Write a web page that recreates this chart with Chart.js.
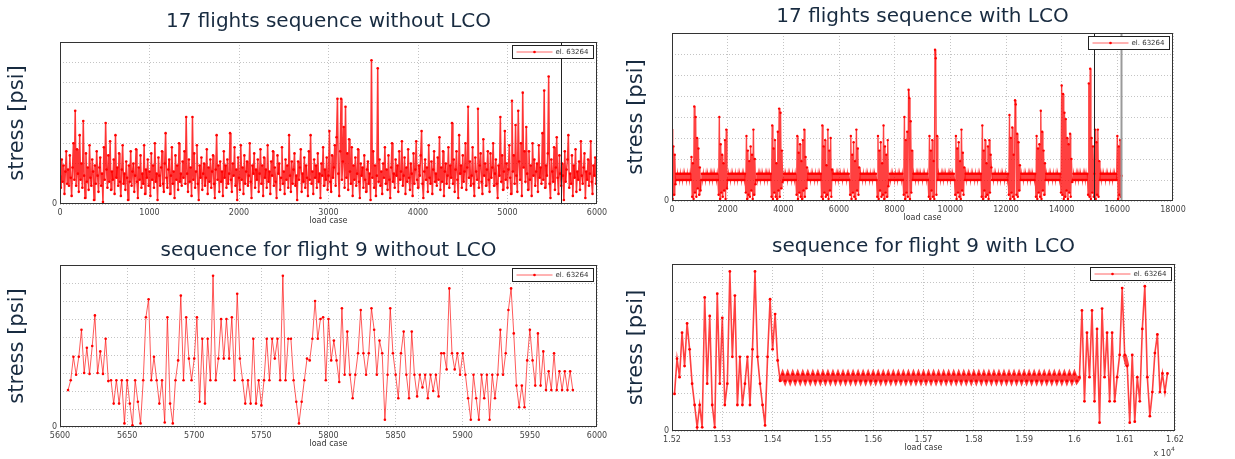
<!DOCTYPE html>
<html>
<head>
<meta charset="utf-8">
<script src="https://cdn.jsdelivr.net/npm/chart.js@4.4.1/dist/chart.umd.min.js"></script>
<style>
  html, body { margin: 0; padding: 0; background: #fff; }
  .panel { position: absolute; }
  canvas { display: block; }
</style>
</head>
<body>
<div class="panel" style="left:0;top:0"><canvas id="tl" width="617" height="229"></canvas></div>
<div class="panel" style="left:617px;top:0"><canvas id="tr" width="618" height="229"></canvas></div>
<div class="panel" style="left:0;top:229px"><canvas id="bl" width="617" height="230"></canvas></div>
<div class="panel" style="left:617px;top:229px"><canvas id="br" width="618" height="230"></canvas></div>
<script>
const legendLabel = 'el. 63264';
const stressTitle = 'stress [psi]';
const loadTitle = 'load case';

// 17 flights, no LCO: one value per 10 load cases
const seqNoLcoStart = 0, seqNoLcoStep = 10;
const seqNoLco = [
  1.4,0.8,2.2,1.1,1.9,0.5,1.6,2.6,1.0,1.7,0.9,2.4,1.3,0.4,1.8,3.0,1.2,4.6,0.9,2.7,
  1.5,0.6,3.4,1.2,2.0,0.8,4.1,1.4,0.3,2.5,1.1,1.8,0.7,2.9,1.3,0.9,2.2,1.6,0.2,1.9,
  1.0,2.6,1.4,0.6,1.8,2.3,0.9,1.5,0.1,2.8,1.2,4.0,1.7,0.8,2.4,1.1,3.1,0.7,1.6,1.2,
  2.2,0.5,3.4,1.3,1.8,0.9,2.5,1.1,0.4,1.7,2.9,1.0,1.5,0.7,2.1,1.3,0.2,1.9,1.1,2.6,
  0.9,1.6,2.0,0.6,1.4,2.7,1.1,0.3,1.8,1.2,2.4,0.8,1.5,1.0,2.9,0.5,1.7,1.3,2.2,0.9,
  1.6,0.4,2.5,1.2,1.9,0.8,3.0,1.1,1.5,0.2,2.3,1.4,0.9,1.8,2.6,1.0,0.6,2.0,3.5,1.3,
  0.8,1.7,2.2,0.5,1.4,2.8,1.0,1.6,0.3,2.4,1.2,1.9,0.7,3.0,1.1,1.5,0.9,2.1,1.3,2.6,
  1.0,4.3,1.5,0.6,2.2,1.1,1.8,0.4,4.3,1.2,2.5,0.8,1.6,2.9,1.0,0.2,1.9,1.3,2.3,0.7,
  1.5,2.0,0.9,1.3,2.7,0.5,1.8,1.1,2.2,0.8,1.6,2.4,1.0,0.3,1.7,3.4,1.2,1.9,0.6,2.1,
  1.1,1.6,0.4,2.6,1.3,1.9,0.8,2.2,1.0,1.5,3.5,1.2,0.6,2.0,1.4,2.8,0.9,1.7,0.2,2.3,
  1.3,0.7,2.9,1.2,1.8,0.5,2.4,1.0,1.6,2.1,0.9,1.4,3.0,1.1,0.3,1.9,1.5,2.5,0.8,1.7,
  1.2,2.2,0.6,1.5,2.7,1.0,1.9,0.4,2.3,1.3,1.7,0.8,2.9,1.1,1.6,0.5,2.1,1.4,2.6,0.9,
  1.8,1.1,0.3,2.4,1.5,2.0,0.7,1.3,2.8,1.0,1.6,0.5,2.2,1.2,1.9,0.8,3.4,1.4,0.6,2.1,
  1.0,1.7,2.5,0.9,1.4,0.2,2.1,1.2,1.8,2.7,0.6,1.5,1.1,2.3,0.8,1.9,1.3,0.4,2.6,1.2,
  3.4,1.0,1.6,0.5,2.2,1.3,1.9,0.8,2.5,1.1,1.5,0.3,2.0,1.4,2.8,0.9,1.7,1.2,2.3,0.7,
  1.4,3.6,1.1,0.6,2.4,1.3,1.8,2.9,0.9,3.3,5.2,1.5,0.4,2.6,5.2,1.2,2.1,3.8,0.8,4.8,
  1.3,2.5,0.7,3.2,1.6,1.0,2.8,0.4,1.9,1.2,2.3,0.9,1.5,2.7,1.1,0.3,2.0,1.4,1.8,0.8,
  2.4,1.2,0.6,1.7,2.1,1.0,1.5,0.2,7.1,1.3,2.6,0.8,1.9,0.4,1.4,6.7,1.1,2.2,0.9,1.6,
  0.5,2.0,1.3,2.8,1.0,1.7,0.7,2.4,1.2,0.3,1.8,3.0,1.1,1.5,0.8,2.2,1.4,1.9,0.6,2.6,
  1.2,1.6,3.1,0.9,1.4,2.3,0.5,1.8,1.1,2.7,1.3,0.7,2.0,1.5,0.4,2.5,1.0,1.7,3.1,1.2,
  0.8,1.9,1.4,2.4,3.6,1.0,0.3,1.6,2.2,1.2,1.8,0.6,2.9,1.3,1.0,2.1,0.5,1.7,2.6,1.1,
  1.5,0.9,2.3,1.2,3.3,0.7,1.8,1.1,2.6,0.4,1.6,2.0,1.0,1.4,2.8,0.8,1.9,1.3,4.0,1.0,
  2.2,0.6,1.7,2.6,1.2,0.3,3.4,1.5,1.9,0.8,2.4,1.1,1.6,3.0,0.7,1.8,4.8,1.3,2.1,0.9,
  1.4,2.8,1.0,0.4,2.3,1.6,1.2,4.7,0.8,1.9,2.5,1.1,0.5,3.2,1.4,2.0,0.9,1.7,2.6,1.2,
  0.6,2.5,1.3,1.8,3.0,0.9,1.5,2.2,1.0,0.3,1.9,1.4,4.3,1.1,2.4,0.7,1.6,3.6,1.2,2.0,
  0.8,1.7,2.9,1.3,0.5,5.1,1.6,2.4,1.0,3.9,1.4,0.6,4.6,2.1,1.2,3.0,0.4,5.5,1.8,2.6,
  1.1,3.8,1.5,0.7,2.6,1.2,1.9,0.4,3.0,1.4,2.2,0.9,1.6,2.0,0.6,2.9,1.3,1.8,1.0,3.5,
  1.2,5.6,0.8,1.9,1.4,2.5,6.3,1.0,0.3,2.2,1.6,1.1,2.8,0.7,1.8,3.3,1.3,0.5,2.4,1.5,
  0.9,2.0,1.4,0.2,2.6,1.1,1.7,2.2,3.4,0.8,1.5,1.0,2.4,0.4,1.9,1.3,2.7,0.6,1.6,1.2,
  2.1,0.7,3.1,1.4,1.0,1.8,2.5,0.3,1.6,1.2,2.2,0.9,1.5,3.1,1.1,0.5,1.9,1.4,2.3,1.0
];

// 17 flights with LCO: one value per 25 load cases
const seqLcoStart = 0, seqLcoStep = 25;
const seqLco = [
  // 0 - 975
  3.4,0.1,2.6,0.3,2.2,0.8,
  1.3,1.0,1.3,1.0,1.3,1.0,1.3,1.0,1.3,1.0,1.3,1.0,1.3,1.0,1.3,1.0,1.3,1.0,1.3,1.0,1.3,1.0,
  2.1,0.2,1.8,0.1,4.5,0.4,4.0,0.2,3.0,0.6,2.5,0.3,
  // 1000 - 1975
  1.6,0.5,
  1.0,1.3,1.0,1.3,1.0,1.3,1.0,1.3,1.0,1.3,1.0,1.3,1.0,1.3,1.0,1.3,1.0,1.3,1.0,1.3,1.0,1.3,1.0,1.3,1.0,
  0.3,4.0,0.1,2.7,0.4,2.2,0.2,1.8,0.5,2.9,0.1,3.4,0.6,
  // 2000 - 2975
  1.0,1.3,1.0,1.3,1.0,1.3,1.0,1.3,1.0,1.3,1.0,1.3,1.0,1.3,1.0,1.3,1.0,1.3,1.0,1.3,1.0,1.3,1.0,1.3,1.0,1.3,
  0.4,3.1,0.1,2.4,0.3,1.9,0.2,2.6,0.5,2.2,0.1,3.4,0.3,2.0,
  // 3000 - 3975
  0.8,
  1.0,1.3,1.0,1.3,1.0,1.3,1.0,1.3,1.0,1.3,1.0,1.3,1.0,1.3,1.0,1.3,1.0,1.3,1.0,1.3,1.0,1.3,
  0.2,3.6,0.1,2.5,0.4,2.9,0.2,1.8,0.1,3.3,0.5,4.4,0.2,4.2,0.6,2.4,0.9,
  // 4000 - 4975
  1.0,1.3,1.0,1.3,1.0,1.3,1.0,1.3,1.0,1.3,1.0,1.3,1.0,1.3,1.0,1.3,1.0,1.3,1.0,
  0.3,3.1,0.1,2.3,0.4,2.7,0.2,1.9,0.1,2.9,0.5,3.4,0.2,2.1,0.6,1.6,
  1.0,1.3,1.0,1.3,1.0,
  // 5000 - 5975
  1.3,1.0,1.3,1.0,1.3,1.0,1.3,1.0,1.3,1.0,1.3,1.0,1.3,1.0,1.3,
  0.2,3.6,0.1,2.6,0.4,2.9,0.2,1.7,0.3,3.4,0.1,2.4,0.5,3.0,0.2,1.5,
  1.0,1.3,1.0,1.3,1.0,1.3,1.0,1.3,1.0,
  // 6000 - 6975
  1.3,1.0,1.3,1.0,1.3,1.0,1.3,1.0,1.3,1.0,1.3,1.0,1.3,1.0,1.3,1.0,
  0.3,3.1,0.1,2.2,0.4,2.8,0.2,1.9,0.1,3.4,0.5,2.5,0.3,1.6,
  1.0,1.3,1.0,1.3,1.0,1.3,1.0,1.3,1.0,1.3,
  // 7000 - 7975
  1.0,1.3,1.0,1.3,1.0,1.3,1.0,1.3,1.0,1.3,1.0,1.3,1.0,1.3,1.0,
  0.2,3.1,0.1,2.4,0.5,2.8,0.2,1.8,0.3,3.6,0.1,2.6,0.4,2.2,0.2,2.9,0.7,
  1.0,1.3,1.0,1.3,1.0,1.3,1.0,1.3,
  // 8000 - 8975
  1.0,1.3,1.0,1.3,1.0,1.3,1.0,1.3,1.0,1.3,1.0,1.3,1.0,
  0.3,4.0,0.1,2.9,0.4,3.3,0.2,5.3,4.9,0.1,3.8,0.4,2.4,
  1.0,1.3,1.0,1.3,1.0,1.3,1.0,1.3,1.0,1.3,1.0,1.3,1.0,1.3,
  // 9000 - 9975
  1.0,1.3,1.0,1.3,1.0,1.3,1.0,1.3,1.0,
  0.2,3.1,0.1,2.4,0.5,2.9,0.2,1.9,0.1,7.2,6.8,0.3,3.1,
  1.0,1.3,1.0,1.3,1.0,1.3,1.0,1.3,1.0,1.3,1.0,1.3,1.0,1.3,1.0,1.3,1.0,1.3,
  // 10000 - 10975
  1.0,1.3,1.0,1.3,1.0,1.3,1.0,
  0.3,3.1,0.1,2.5,0.4,2.8,0.2,1.9,0.1,3.4,0.5,2.3,0.3,1.6,
  1.0,1.3,1.0,1.3,1.0,1.3,1.0,1.3,1.0,1.3,1.0,1.3,1.0,1.3,1.0,1.3,1.0,1.3,1.0,
  // 11000 - 11975
  1.3,1.0,1.3,1.0,1.3,
  0.2,3.6,0.1,2.4,0.5,2.9,0.2,1.8,0.3,2.6,0.1,2.9,0.4,2.2,1.6,
  1.0,1.3,1.0,1.3,1.0,1.3,1.0,1.3,1.0,1.3,1.0,1.3,1.0,1.3,1.0,1.3,1.0,1.3,1.0,1.3,
  // 12000 - 12975
  1.0,1.3,1.0,1.3,
  0.3,4.1,0.1,3.0,0.4,3.5,0.2,2.2,0.1,4.8,4.6,0.3,3.2,0.2,2.8,0.5,1.7,
  1.0,1.3,1.0,1.3,1.0,1.3,1.0,1.3,1.0,1.3,1.0,1.3,1.0,1.3,1.0,1.3,1.0,1.3,1.0,
  // 13000 - 13975
  1.3,1.0,1.3,
  0.2,3.1,0.1,2.5,0.4,2.7,0.2,4.3,0.1,3.3,0.5,2.4,0.3,1.8,
  1.0,1.3,1.0,1.3,1.0,1.3,1.0,1.3,1.0,1.3,1.0,1.3,1.0,1.3,1.0,1.3,1.0,1.3,1.0,1.3,1.0,1.3,
  0.4,
  // 14000 - 14975
  5.5,0.3,5.1,0.1,4.2,0.2,3.9,0.5,3.0,0.1,2.7,0.4,3.2,0.2,2.0,0.9,
  1.0,1.3,1.0,1.3,1.0,1.3,1.0,1.3,1.0,1.3,1.0,1.3,1.0,1.3,1.0,1.3,1.0,1.3,1.0,1.3,1.0,1.3,
  0.3,5.6,
  // 15000 - 15975
  0.2,6.3,0.1,3.0,0.4,2.6,0.2,
  1.3,
  3.4,0.1,2.8,0.3,3.4,0.2,1.9,
  1.0,1.3,1.0,1.3,1.0,1.3,1.0,1.3,1.0,1.3,1.0,1.3,1.0,1.3,1.0,1.3,1.0,1.3,1.0,1.3,1.0,1.3,1.0,1.3,1.0,
  // 16000 - 16150
  3.1,0.1,2.6,0.3,2.9,0.2,1.2
];

// flight 9 without LCO: one value per 2 load cases
const f9NoLcoStart = 5606, f9NoLcoStep = 2;
const f9NoLco = [
  2.05,2.6,3.9,2.9,3.9,5.4,3.0,4.4,2.95,4.5,
  6.2,3.0,4.2,2.95,4.9,2.55,2.6,1.3,2.6,1.3,
  2.6,0.2,2.6,1.3,0.1,2.6,1.4,0.2,2.6,6.1,
  7.1,2.6,3.9,2.6,1.3,2.6,0.25,6.1,1.3,0.2,
  2.6,3.7,7.3,2.6,6.1,3.8,2.6,3.8,6.1,1.4,
  4.9,1.3,4.9,2.6,8.4,2.6,3.8,6.0,3.8,6.0,
  3.8,6.1,2.6,7.4,3.8,2.6,1.3,2.6,1.3,4.9,
  1.3,2.6,1.2,2.6,4.9,2.6,4.9,3.8,4.9,2.6,
  8.4,2.6,4.9,4.9,2.6,1.4,0.2,1.4,2.6,3.8,
  3.7,4.9,7.0,4.9,6.0,6.1,2.6,6.0,3.7,4.8,
  3.7,2.5,6.6,2.9,5.3,2.9,1.6,2.9,4.1,6.5,
  4.1,2.9,4.1,6.6,5.4,2.9,4.8,4.1,0.4,2.9,
  6.6,4.1,2.9,1.6,4.1,5.3,2.9,1.6,5.3,2.9,
  1.7,2.9,2.2,2.9,1.6,2.9,2.0,2.9,1.7,4.1,
  4.1,3.2,7.7,4.1,3.2,4.1,2.9,4.1,2.9,1.6,
  0.4,2.9,1.6,0.4,2.9,1.6,2.9,0.4,2.9,1.6,
  2.9,5.4,2.9,4.1,6.5,7.7,5.2,2.3,1.1,2.3,
  1.1,3.7,5.4,3.7,2.3,5.2,2.3,4.2,2.05,3.1,
  2.05,4.1,2.05,3.1,2.05,3.1,2.05,3.1,2.05
];

// flight 9 with LCO: one value per 5 load cases
const f9LcoStart = 15205, f9LcoStep = 5;
const f9Lco = [
  2.0,3.9,2.9,5.3,3.5,5.8,4.4,
  2.55,1.4,0.2,1.4,0.2,7.2,2.55,6.2,1.4,0.2,7.4,2.55,6.1,1.4,2.55,8.6,4.0,7.3,1.4,4.0,
  1.4,2.55,4.0,1.4,4.4,8.6,4.0,2.55,1.4,0.3,4.0,7.1,4.4,6.3,3.8,
  // LCO plateau
  2.7,3.05,2.7,3.05,2.7,3.05,2.7,3.05,2.7,3.05,
  2.7,3.05,2.7,3.05,2.7,3.05,2.7,3.05,2.7,3.05,
  2.7,3.05,2.7,3.05,2.7,3.05,2.7,3.05,2.7,3.05,
  2.7,3.05,2.7,3.05,2.7,3.05,2.7,3.05,2.7,3.05,
  2.7,3.05,2.7,3.05,2.7,3.05,2.7,3.05,2.7,3.05,
  2.7,3.05,2.7,3.05,2.7,3.05,2.7,3.05,2.7,3.05,
  2.7,3.05,2.7,3.05,2.7,3.05,2.7,3.05,2.7,3.05,
  2.7,3.05,2.7,3.05,2.7,3.05,2.7,3.05,2.7,3.05,
  2.7,3.05,2.7,3.05,2.7,3.05,2.7,3.05,2.7,3.05,
  2.7,3.05,2.7,3.05,2.7,3.05,2.7,3.05,2.7,3.05,
  2.7,3.05,2.7,3.05,2.7,3.05,2.7,3.05,2.7,3.05,
  2.7,3.05,2.7,3.05,2.7,3.05,2.7,3.05,2.7,
  2.9,6.5,1.6,5.3,2.9,6.5,1.6,5.5,0.45,6.6,2.9,5.3,1.6,5.3,1.6,2.9,4.1,7.7,
  4.1,3.5,0.45,4.1,0.5,2.9,1.6,5.5,7.8,2.9,0.8,2.1,4.2,5.2,2.1,3.1,2.1,3.1
];

// vertical marker lines (load case)
const marksNoLco = [{ x: 5600, color: '#222', width: 1 }];
const marksLco = [{ x: 15150, color: '#222', width: 1 }, { x: 16120, color: '#9a9a9a', width: 2 }];

const tickFont = { family: 'DejaVu Sans', size: 8 };
const inkColor = '#182b40';

const framePlugin = {
  id: 'frame',
  afterDraw(chart, args, opts) {
    const { ctx, chartArea: a, scales } = chart;
    ctx.save();
    (opts.marks || []).forEach(m => {
      const px = Math.round(scales.x.getPixelForValue(m.x)) + 0.5;
      ctx.strokeStyle = m.color;
      ctx.lineWidth = m.width;
      ctx.beginPath();
      ctx.moveTo(px, a.top);
      ctx.lineTo(px, a.bottom);
      ctx.stroke();
    });
    // box round the plot
    ctx.strokeStyle = '#333';
    ctx.lineWidth = 1;
    ctx.strokeRect(Math.round(a.left) + 0.5, Math.round(a.top) + 0.5,
      Math.round(a.right - a.left) - 1, Math.round(a.bottom - a.top) - 1);
    // legend inside, top right
    const label = chart.data.datasets[0].label;
    ctx.font = '7px "DejaVu Sans"';
    const tw = ctx.measureText(label).width;
    const w = Math.round(tw + 48), h = 13;
    const bx = Math.round(a.right - w - 4) + 0.5, by = Math.round(a.top + 3) + 0.5;
    ctx.fillStyle = '#fff';
    ctx.fillRect(bx, by, w, h);
    ctx.strokeStyle = '#222';
    ctx.strokeRect(bx, by, w, h);
    ctx.strokeStyle = 'rgba(255,0,0,0.6)';
    ctx.beginPath();
    ctx.moveTo(bx + 4, by + h / 2);
    ctx.lineTo(bx + 40, by + h / 2);
    ctx.stroke();
    ctx.fillStyle = '#f00';
    ctx.beginPath();
    ctx.arc(bx + 22, by + h / 2, 1.3, 0, Math.PI * 2);
    ctx.fill();
    ctx.fillStyle = '#333';
    ctx.textAlign = 'left';
    ctx.textBaseline = 'middle';
    ctx.fillText(label, bx + 43, by + h / 2 + 0.5);
    if (opts.exponent) {
      ctx.fillStyle = '#444';
      ctx.font = '8px "DejaVu Sans"';
      ctx.textAlign = 'right';
      ctx.fillText('x 10', a.right - 4, chart.height - 5);
      ctx.font = '6px "DejaVu Sans"';
      ctx.textAlign = 'left';
      ctx.fillText('4', a.right - 4, chart.height - 10);
    }
    ctx.restore();
  }
};

function drawPanel(p) {
  const points = p.values.map((v, i) => ({ x: p.start + i * p.step, y: v }));
  const gridOpts = { color: '#c4c4c4', drawTicks: false };
  const borderOpts = { display: false, dash: [1, 2] };
  new Chart(document.getElementById(p.id), {
    type: 'line',
    data: {
      datasets: [{
        label: legendLabel,
        data: points,
        borderColor: p.lineColor,
        borderWidth: p.lineWidth,
        // small back-and-forth steps (the LCO band) drawn heavier so the band reads solid
        segment: {
          borderWidth: c => (Math.abs(c.p1.parsed.y - c.p0.parsed.y) < 0.6 ? p.bandWidth : undefined)
        },
        pointRadius: p.dot,
        pointBackgroundColor: '#ff0000',
        pointBorderWidth: 0,
        tension: 0
      }]
    },
    options: {
      responsive: false,
      animation: false,
      devicePixelRatio: 1,
      layout: { padding: { left: 0, right: p.padRight, top: 0, bottom: 0 } },
      plugins: {
        legend: { display: false },
        tooltip: { enabled: false },
        title: {
          display: true, text: p.title, fullSize: false, color: inkColor,
          font: { family: 'DejaVu Sans', size: 20, weight: 'normal' },
          padding: { top: p.titlePad[0], bottom: p.titlePad[1] }
        },
        frame: { marks: p.marks, exponent: p.exponent }
      },
      scales: {
        x: {
          type: 'linear', min: p.xMin, max: p.xMax,
          afterFit: s => { s.height = p.xHeight; },
          ticks: {
            stepSize: p.xStep, autoSkip: false, maxRotation: 0, font: tickFont,
            color: '#444', padding: 4, callback: p.xFormat
          },
          grid: gridOpts, border: borderOpts,
          title: { display: true, text: loadTitle, font: tickFont, color: '#333',
            padding: { top: 0, bottom: p.xTitlePad } }
        },
        y: {
          min: 0, max: p.yMax,
          afterFit: s => { s.width = p.yWidth; },
          ticks: { stepSize: 1, font: tickFont, color: '#444', padding: 3,
            callback: v => (v === 0 ? '0' : '') },
          grid: gridOpts, border: borderOpts,
          title: { display: true, text: stressTitle, color: inkColor,
            font: { family: 'DejaVu Sans', size: 21 }, padding: { top: p.yTitlePad, bottom: 0 } }
        }
      }
    },
    plugins: [framePlugin]
  });
}

const plain = v => String(v);
const tenK = v => String(Math.round(v / 100) / 100);

[
  { id: 'tl', title: '17 flights sequence without LCO', start: seqNoLcoStart, step: seqNoLcoStep,
    values: seqNoLco, xMin: 0, xMax: 6000, xStep: 1000, yMax: 8, xFormat: plain, marks: marksNoLco,
    lineColor: 'rgba(255,0,0,0.8)', lineWidth: 1.5, bandWidth: 1.5, dot: 1.3,
    yWidth: 60, padRight: 20, titlePad: [10, 8], xHeight: 25, xTitlePad: 3, yTitlePad: 5 },
  { id: 'tr', title: '17 flights sequence with LCO', start: seqLcoStart, step: seqLcoStep,
    values: seqLco, xMin: 0, xMax: 18000, xStep: 2000, yMax: 8, xFormat: plain, marks: marksLco,
    lineColor: 'rgba(255,0,0,0.75)', lineWidth: 1.4, bandWidth: 1.4, dot: 1.2,
    yWidth: 55, padRight: 62, titlePad: [5, 4], xHeight: 28, xTitlePad: 6, yTitlePad: 7 },
  { id: 'bl', title: 'sequence for flight 9 without LCO', start: f9NoLcoStart, step: f9NoLcoStep,
    values: f9NoLco, xMin: 5600, xMax: 6000, xStep: 50, yMax: 9, xFormat: plain, marks: [],
    lineColor: 'rgba(255,0,0,0.65)', lineWidth: 1, bandWidth: 1, dot: 1.3,
    yWidth: 60, padRight: 20, titlePad: [10, 2], xHeight: 32, xTitlePad: 10, yTitlePad: 5 },
  { id: 'br', title: 'sequence for flight 9 with LCO', start: f9LcoStart, step: f9LcoStep,
    values: f9Lco, xMin: 15200, xMax: 16200, xStep: 100, yMax: 9, xFormat: tenK, marks: [],
    exponent: true, lineColor: 'rgba(255,0,0,0.75)', lineWidth: 1.6, bandWidth: 4.2, dot: 1.4,
    yWidth: 55, padRight: 60, titlePad: [6, 5], xHeight: 28, xTitlePad: 6, yTitlePad: 7 }
].forEach(drawPanel);
</script>
</body>
</html>
